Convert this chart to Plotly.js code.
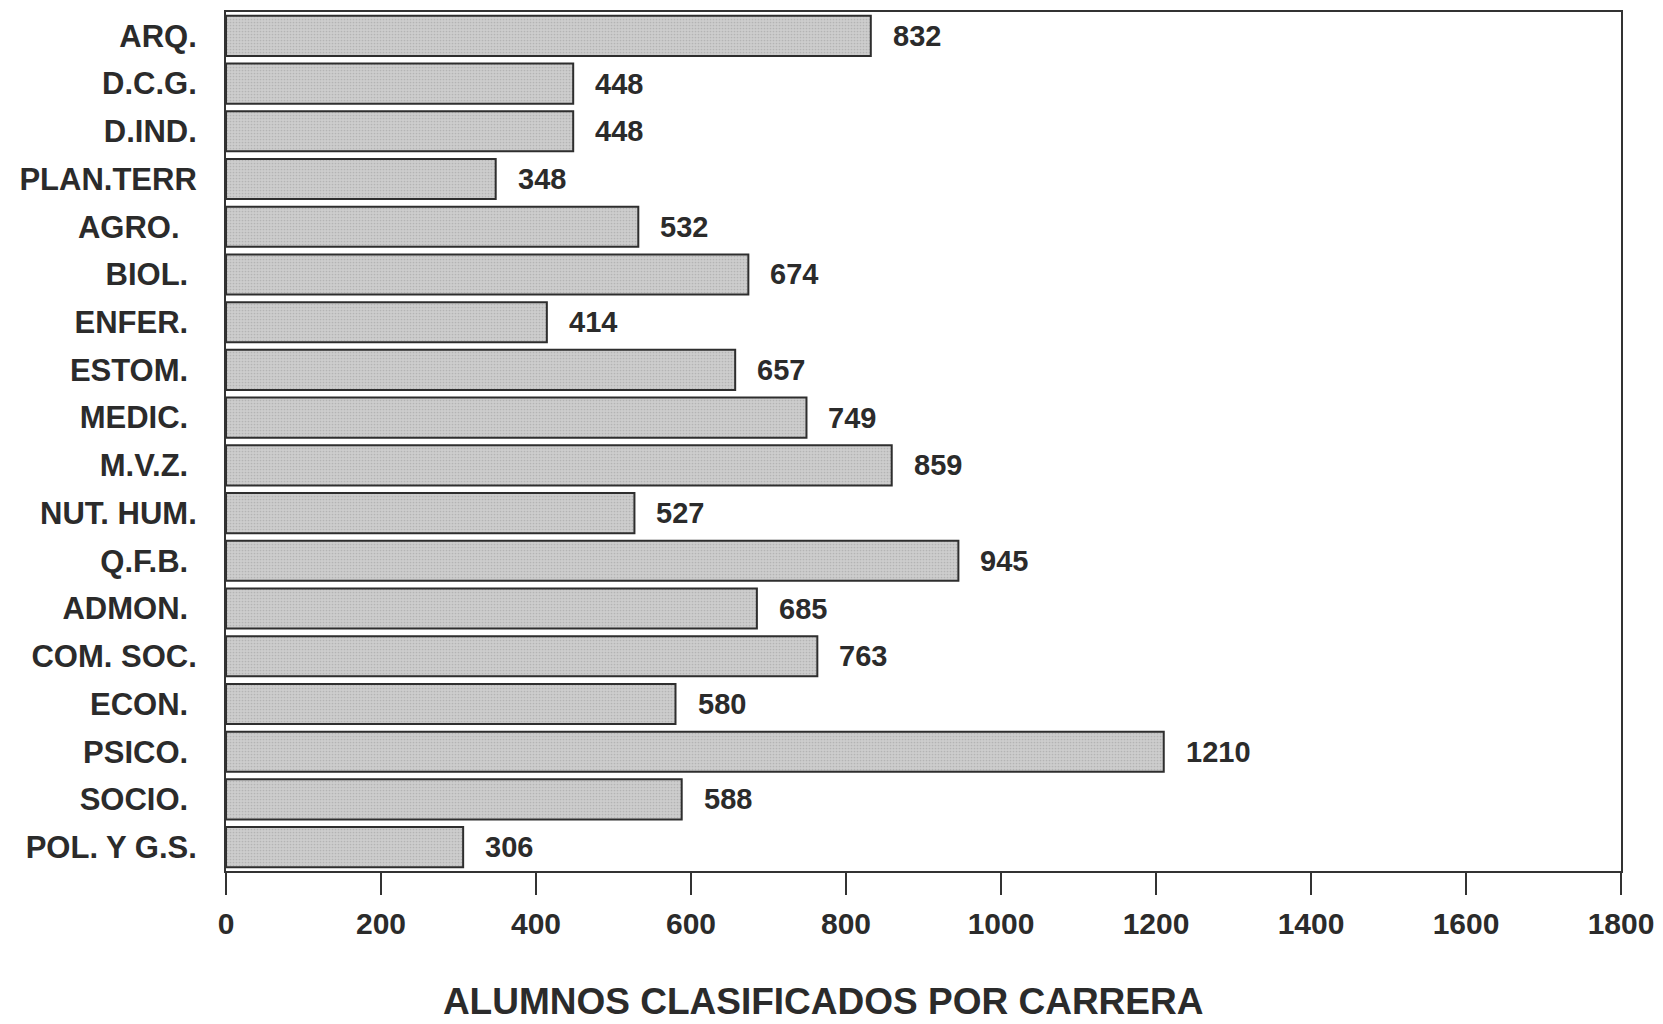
<!DOCTYPE html>
<html>
<head>
<meta charset="utf-8">
<script src="https://cdn.plot.ly/plotly-3.0.1.min.js"></script>
<style>html,body{margin:0;padding:0;background:#fff;}#chart{width:1663px;height:1024px;}</style>
</head>
<body>
<div id="chart"></div>
<script>
const carreras = ["ARQ.", "D.C.G.", "D.IND.", "PLAN.TERR", "AGRO.", "BIOL.", "ENFER.", "ESTOM.", "MEDIC.", "M.V.Z.", "NUT. HUM.", "Q.F.B.", "ADMON.", "COM. SOC.", "ECON.", "PSICO.", "SOCIO.", "POL. Y G.S."];
const alumnos = [832, 448, 448, 348, 532, 674, 414, 657, 749, 859, 527, 945, 685, 763, 580, 1210, 588, 306];
const etiquetas = ["ARQ.", "D.C.G.", "D.IND.", "PLAN.TERR", "AGRO.\u00a0\u00a0", "BIOL.\u00a0", "ENFER.\u00a0", "ESTOM.\u00a0", "MEDIC.\u00a0", "M.V.Z.\u00a0", "NUT. HUM.", "Q.F.B.\u00a0", "ADMON.\u00a0", "COM. SOC.", "ECON.\u00a0", "PSICO.\u00a0", "SOCIO.\u00a0", "POL. Y G.S."];
const xTicks = [0, 200, 400, 600, 800, 1000, 1200, 1400, 1600, 1800];
const titulo = "ALUMNOS CLASIFICADOS POR CARRERA";

const FONT = "'Liberation Sans', Arial, sans-serif";
const TXT = "#2b2b2b";

const trace = {
  type: "bar",
  orientation: "h",
  x: alumnos,
  y: carreras,
  marker: {
    color: "#c9c9c9",
    line: {color: "#2e2e2e", width: 2},
    pattern: {shape: ".", size: 3, solidity: 0.25, fgcolor: "#b4b4b4", bgcolor: "#cdcdcd", fillmode: "replace"}
  },
  hoverinfo: "skip"
};

const annotations = alumnos.map((v, i) => ({
  x: v, y: carreras[i], xref: "x", yref: "y",
  text: String(v), showarrow: false,
  xanchor: "left", yanchor: "middle", xshift: 20,
  font: {family: FONT, size: 29, color: TXT, weight: "bold"}
}));

const layout = {
  width: 1663, height: 1024,
  margin: {l: 226, r: 42, t: 12, b: 153},
  paper_bgcolor: "#ffffff", plot_bgcolor: "#ffffff",
  bargap: 0.16,
  showlegend: false,
  title: {
    text: "<b>" + titulo + "</b>",
    x: 0.495, xref: "container", xanchor: "center",
    y: 0.022, yref: "container", yanchor: "middle",
    font: {family: FONT, size: 37, color: TXT}
  },
  xaxis: {
    range: [0, 1800],
    tickmode: "array", tickvals: xTicks, ticktext: xTicks.map(String),
    ticks: "outside", ticklen: 22, tickwidth: 2, tickcolor: "#333",
    showgrid: false, zeroline: false,
    showline: true, mirror: true, linecolor: "#333", linewidth: 2,
    tickfont: {family: FONT, size: 30, color: TXT, weight: "bold"},
    ticklabelstandoff: 3
  },
  yaxis: {
    type: "category",
    categoryorder: "array", categoryarray: carreras,
    range: [17.5, -0.5],
    tickmode: "array", tickvals: carreras, ticktext: etiquetas,
    ticks: "", showgrid: false, zeroline: false,
    showline: true, mirror: true, linecolor: "#333", linewidth: 2,
    tickfont: {family: FONT, size: 31, color: TXT, weight: "bold"},
    ticklabelstandoff: 21
  },
  annotations: annotations
};

Plotly.newPlot("chart", [trace], layout, {displayModeBar: false, staticPlot: true});
</script>
</body>
</html>
